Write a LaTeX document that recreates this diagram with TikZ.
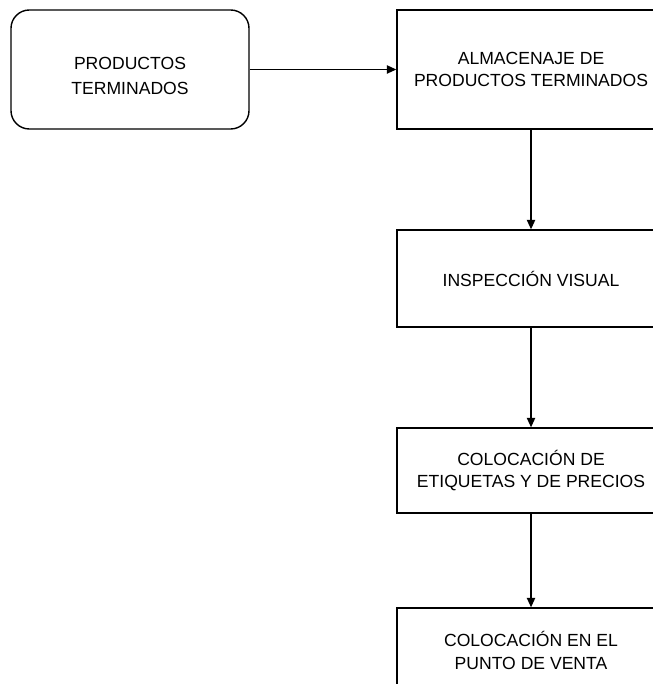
\documentclass[tikz,border=0pt]{standalone}
\usepackage{fontspec}
\setmainfont{Liberation Sans}
\usetikzlibrary{positioning, arrows.meta}

\begin{document}
\begin{tikzpicture}
  [
  x = 0.03cm, y = -0.03cm,
  on grid, >={Triangle[length=8pt,width=7pt]},
  every node/.style={font=\fontsize{15}{19}\selectfont, align=center},
  terminal/.style={draw, line width=1.2pt, rounded corners=0.55cm, minimum width=7.14cm, minimum height=3.57cm},
  process/.style={draw, line width=1.2pt, minimum width=8.04cm, minimum height=2.91cm},
  flow/.style={->, line width=1.2pt}
  ]
  \useasboundingbox (0,0) rectangle (652,684);

  \node[terminal]                    (prod)   at (130,69.5)
                                              [label={[yshift=-0.18cm, font=\fontsize{15}{21.3}\selectfont]center:PRODUCTOS\\TERMINADOS}] {};
  \node[process, minimum height=3.57cm] (alm) [right=12.03cm of prod]             {ALMACENAJE DE\\PRODUCTOS TERMINADOS};
  \node[process]                     (insp)   [below=6.27cm of alm]                {INSPECCIÓN VISUAL};
  \node[process, minimum height=2.55cm] (etiq) [below=5.76cm of insp]              {COLOCACIÓN DE\\ETIQUETAS Y DE PRECIOS};
  \node[process, minimum height=2.55cm] (venta) [below=5.4cm of etiq]              {COLOCACIÓN EN EL\\PUNTO DE VENTA};

  \draw[flow] (prod) -- (alm);
  \draw[flow] (alm)  -- (insp);
  \draw[flow] (insp) -- (etiq);
  \draw[flow] (etiq) -- (venta);
\end{tikzpicture}
\end{document}
